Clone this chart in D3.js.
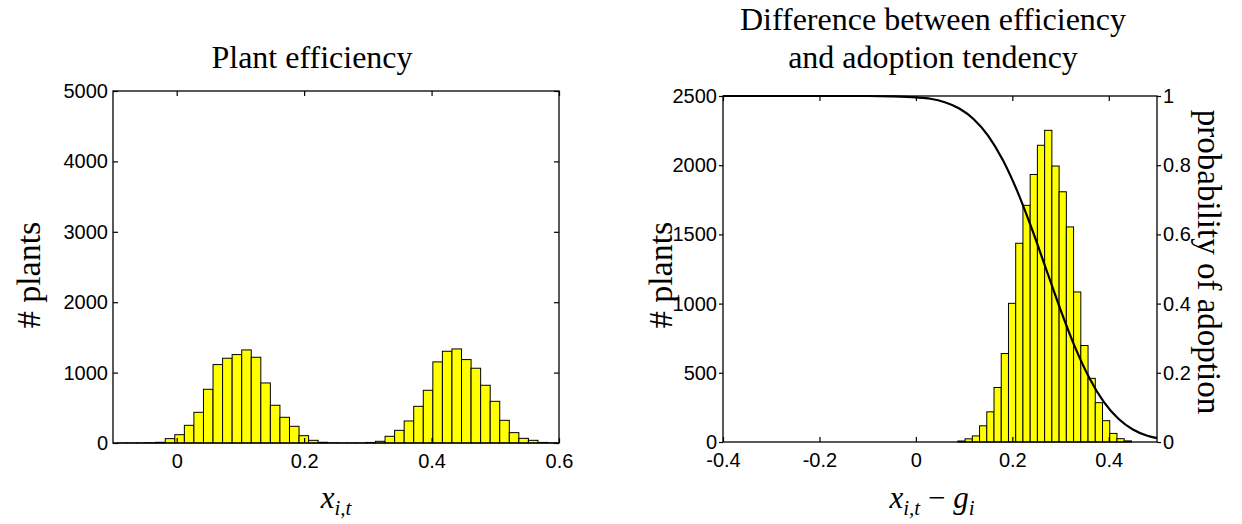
<!DOCTYPE html>
<html><head><meta charset="utf-8">
<script src="https://cdn.jsdelivr.net/npm/d3@7"></script>
<style>
html,body{margin:0;padding:0;background:#fff;}
svg{display:block;}
.tick text{font-family:"Liberation Sans",Arial,sans-serif;font-size:20px;fill:#000;}
.lbl{font-family:"Liberation Serif","Times New Roman",serif;fill:#000;}
</style>
</head><body>
<svg id="c" width="1242" height="524"></svg>
<script>
// ---- data ----
const binWidth = 0.015;
const leftBinStart = -0.093;
const leftCounts = [1,1,2,4,10,62,118,251,436,763,1114,1204,1256,1322,1218,853,536,365,237,104,38,10,3,1,1,2,8,24,95,180,313,521,749,1152,1303,1336,1185,1062,820,592,322,147,66,38,8,2];
const rightBinStart = 0.087;
const rightCounts = [7,23,44,117,218,394,639,1002,1436,1710,1933,2144,2252,1994,1808,1554,1084,697,460,284,154,62,24,8];
const curveX = [-0.4,-0.3,-0.2,-0.1,-0.05,0,0.03,0.06,0.09,0.12,0.15,0.18,0.21,0.24,0.27,0.30,0.33,0.36,0.39,0.42,0.45,0.48,0.5];
const curveP = [1.0,1.0,1.0,1.0,0.999,0.996,0.992,0.982,0.964,0.933,0.885,0.816,0.726,0.618,0.5,0.382,0.274,0.184,0.115,0.067,0.036,0.018,0.011];
const leftXTicks = [0,0.2,0.4,0.6];
const leftYTicks = [0,1000,2000,3000,4000,5000];
const rightXTicks = [-0.4,-0.2,0,0.2,0.4];
const rightYTicks = [0,500,1000,1500,2000,2500];
const probTicks = [0,0.2,0.4,0.6,0.8,1];
const titleLeft = "Plant efficiency";
const titleRight = ["Difference between efficiency","and adoption tendency"];

const svg = d3.select("#c");
const fmt = d => String(d);

function drawHist(g, x, y, start, counts){
  const bins = counts.map((c,i)=>({x0:start+i*binWidth, x1:start+(i+1)*binWidth, c}));
  g.append("g").selectAll("rect").data(bins).join("rect")
    .attr("x", d=>x(d.x0)).attr("width", d=>x(d.x1)-x(d.x0))
    .attr("y", d=>y(d.c)).attr("height", d=>y(0)-y(d.c))
    .attr("fill","#ffff00").attr("stroke","#000").attr("stroke-width",1);
}

function frame(g, x, y){
  const [x0,x1] = x.range(), [y0,y1] = y.range();
  g.append("rect").attr("x",x0).attr("y",y1).attr("width",x1-x0).attr("height",y0-y1)
    .attr("fill","none").attr("stroke","#000").attr("stroke-width",1.3);
}

// ---- left chart ----
const lx = d3.scaleLinear().domain([-0.1,0.6]).range([113,559]);
const ly = d3.scaleLinear().domain([0,5000]).range([443,91]);
const L = svg.append("g");
drawHist(L, lx, ly, leftBinStart, leftCounts);
frame(L, lx, ly);
L.append("g").attr("transform",`translate(0,${ly(0)})`)
  .call(d3.axisBottom(lx).tickValues(leftXTicks).tickFormat(fmt).tickSizeInner(-5).tickSizeOuter(0).tickPadding(11))
  .call(g=>g.select(".domain").remove());
L.append("g").attr("transform",`translate(0,${ly(5000)})`)
  .call(d3.axisTop(lx).tickValues(leftXTicks).tickFormat("").tickSizeInner(-5).tickSizeOuter(0))
  .call(g=>g.select(".domain").remove());
L.append("g").attr("transform",`translate(${lx(-0.1)},0)`)
  .call(d3.axisLeft(ly).tickValues(leftYTicks).tickFormat(fmt).tickSizeInner(-5).tickSizeOuter(0).tickPadding(5))
  .call(g=>g.select(".domain").remove());
L.append("g").attr("transform",`translate(${lx(0.6)},0)`)
  .call(d3.axisRight(ly).tickValues(leftYTicks).tickFormat("").tickSizeInner(-5).tickSizeOuter(0))
  .call(g=>g.select(".domain").remove());
L.selectAll(".tick line").attr("stroke","#000").attr("stroke-width",1.2);
L.append("text").attr("class","lbl").attr("x",312).attr("y",68)
  .attr("text-anchor","middle").attr("font-size",32).text(titleLeft);
L.append("text").attr("class","lbl").attr("transform",`translate(40,275) rotate(-90)`)
  .attr("text-anchor","middle").attr("font-size",34).text("# plants");
{
  const t = L.append("text").attr("class","lbl").attr("x",(lx.range()[0]+lx.range()[1])/2).attr("y",508)
    .attr("text-anchor","middle").attr("font-size",31);
  t.append("tspan").attr("font-style","italic").text("x");
  t.append("tspan").attr("font-style","italic").attr("font-size",21).attr("dy",7).text("i,t");
}

// ---- right chart ----
const rx = d3.scaleLinear().domain([-0.4,0.5]).range([723,1157]);
const ry = d3.scaleLinear().domain([0,2500]).range([442,96]);
const rp = d3.scaleLinear().domain([0,1]).range([442,96]);
const R = svg.append("g");
drawHist(R, rx, ry, rightBinStart, rightCounts);
R.append("path").datum(curveX.map((v,i)=>[v,curveP[i]]))
  .attr("d", d3.line().x(d=>rx(d[0])).y(d=>rp(d[1])).curve(d3.curveMonotoneX))
  .attr("fill","none").attr("stroke","#000").attr("stroke-width",2.2);
frame(R, rx, ry);
R.append("g").attr("transform",`translate(0,${ry(0)})`)
  .call(d3.axisBottom(rx).tickValues(rightXTicks).tickFormat(fmt).tickSizeInner(-5).tickSizeOuter(0).tickPadding(11))
  .call(g=>g.select(".domain").remove());
R.append("g").attr("transform",`translate(0,${ry(2500)})`)
  .call(d3.axisTop(rx).tickValues(rightXTicks).tickFormat("").tickSizeInner(-5).tickSizeOuter(0))
  .call(g=>g.select(".domain").remove());
R.append("g").attr("transform",`translate(${rx(-0.4)},0)`)
  .call(d3.axisLeft(ry).tickValues(rightYTicks).tickFormat(fmt).tickSizeInner(4).tickSizeOuter(0).tickPadding(2))
  .call(g=>g.select(".domain").remove());
R.append("g").attr("transform",`translate(${rx(0.5)},0)`)
  .call(d3.axisRight(rp).tickValues(probTicks).tickFormat(fmt).tickSizeInner(4).tickSizeOuter(0).tickPadding(2))
  .call(g=>g.select(".domain").remove());
R.selectAll(".tick line").attr("stroke","#000").attr("stroke-width",1.2);
titleRight.forEach((s,i)=>{
  R.append("text").attr("class","lbl").attr("x",933).attr("y",30+i*38)
    .attr("text-anchor","middle").attr("font-size",32).text(s);
});
R.append("text").attr("class","lbl").attr("transform",`translate(672,275) rotate(-90)`)
  .attr("text-anchor","middle").attr("font-size",34).text("# plants");
R.append("text").attr("class","lbl").attr("transform",`translate(1198,262) rotate(90)`)
  .attr("text-anchor","middle").attr("font-size",33).text("probability of adoption");
{
  const t = R.append("text").attr("class","lbl").attr("x",932).attr("y",508)
    .attr("text-anchor","middle").attr("font-size",31);
  t.append("tspan").attr("font-style","italic").text("x");
  t.append("tspan").attr("font-style","italic").attr("font-size",21).attr("dy",7).text("i,t");
  t.append("tspan").attr("dy",-7).text(" \u2212 ");
  t.append("tspan").attr("font-style","italic").text("g");
  t.append("tspan").attr("font-style","italic").attr("font-size",21).attr("dy",7).text("i");
}
</script>
</body></html>
